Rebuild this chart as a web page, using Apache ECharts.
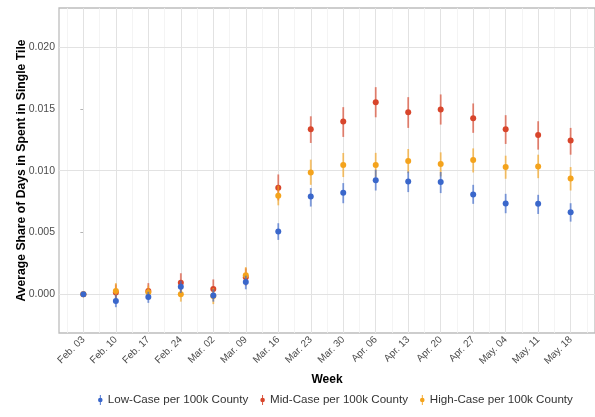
<!DOCTYPE html>
<html>
<head>
<meta charset="utf-8">
<script src="https://cdn.jsdelivr.net/npm/echarts@6/dist/echarts.min.js"></script>
<style>
html,body{margin:0;padding:0;background:#fff;}
#chart{width:595px;height:417px;}
</style>
</head>
<body>
<div id="chart"></div>
<script>
var weeks = ['Feb. 03','Feb. 10','Feb. 17','Feb. 24','Mar. 02','Mar. 09','Mar. 16','Mar. 23','Mar. 30','Apr. 06','Apr. 13','Apr. 20','Apr. 27','May. 04','May. 11','May. 18'];

var lowMean = [0, -0.00054, -0.00022, 0.0006, -0.0001, 0.0010, 0.00508, 0.00791, 0.00821, 0.00924, 0.00913, 0.00908, 0.00807, 0.00734, 0.00732, 0.00664];
var lowLo   = [0, -0.00105, -0.0007, 0.0001, -0.0006, 0.0004, 0.0044, 0.0071, 0.00737, 0.0084, 0.00827, 0.00819, 0.00732, 0.00656, 0.0065, 0.00588];
var lowHi   = [0, -0.00003, 0.0002, 0.0011, 0.0004, 0.0015, 0.00575, 0.0086, 0.0090, 0.01008, 0.00994, 0.0099, 0.00886, 0.00813, 0.00805, 0.00737];

var midMean = [0, 0.00014, 0.00027, 0.00092, 0.00043, 0.00138, 0.00862, 0.01336, 0.01398, 0.01555, 0.01474, 0.01496, 0.01425, 0.01336, 0.0129, 0.01244];
var midLo   = [0, -0.0004, -0.0003, 0.0002, -0.0003, 0.0007, 0.0076, 0.01225, 0.01274, 0.01433, 0.01347, 0.01374, 0.01307, 0.01217, 0.01171, 0.0113];
var midHi   = [0, 0.0008, 0.0009, 0.0017, 0.0012, 0.0021, 0.0097, 0.01441, 0.01515, 0.01677, 0.01596, 0.01618, 0.01545, 0.0145, 0.01401, 0.01347];

var highMean = [0, 0.00027, 0.00016, 0.0000, -0.00015, 0.00154, 0.00797, 0.00986, 0.01046, 0.01046, 0.01079, 0.01054, 0.01087, 0.0103, 0.01035, 0.00938];
var highLo   = [0, -0.0003, -0.0004, -0.0006, -0.0008, 0.0009, 0.0072, 0.00886, 0.00949, 0.0095, 0.00981, 0.00954, 0.00986, 0.00935, 0.0094, 0.0084];
var highHi   = [0, 0.0009, 0.0007, 0.0006, 0.0005, 0.0022, 0.0088, 0.0109, 0.01144, 0.01145, 0.01176, 0.01149, 0.01181, 0.01122, 0.0113, 0.0103];

var yTicks = [0, 0.005, 0.010, 0.015, 0.020];
var seriesNames = ['Low-Case per 100k County', 'Mid-Case per 100k County', 'High-Case per 100k County'];
var colors = ['#3A67CB', '#D8452B', '#F4A31C'];

var xIdx = weeks.map(function (w, i) { return i; });
var xMinor = [];
for (var i = -1; i < weeks.length; i++) xMinor.push(i + 0.5);
var yMinor = [-0.0025, 0.0025, 0.0075, 0.0125, 0.0175, 0.0225];

var FONT = 'Liberation Sans, Arial, Helvetica, sans-serif';
var chart = echarts.init(document.getElementById('chart'), null, {renderer: 'canvas'});

function pts(mean) { return mean.map(function (v, i) { return [i, v]; }); }
function bars(lo, hi) { return lo.map(function (v, i) { return [i, v, hi[i]]; }); }

function errSeries(name, color, lo, hi, z) {
  return {
    name: name, type: 'custom', z: z, silent: true, animation: false,
    color: color, itemStyle: {color: color},
    data: bars(lo, hi),
    encode: {x: 0, y: [1, 2]},
    renderItem: function (params, api) {
      var p1 = api.coord([api.value(0), api.value(1)]);
      var p2 = api.coord([api.value(0), api.value(2)]);
      var top = Math.min(p1[1], p2[1]);
      var h = Math.abs(p1[1] - p2[1]);
      return {type: 'rect', shape: {x: p1[0] - 0.9, y: top, width: 1.8, height: h},
        style: {fill: color, stroke: null, lineWidth: 0, opacity: 0.65}};
    }
  };
}
function ptSeries(name, color, mean, z) {
  return {
    name: name, type: 'scatter', z: z, silent: true, animation: false,
    color: color,
    symbol: 'circle', symbolSize: 6,
    itemStyle: {color: color, opacity: 1},
    data: pts(mean)
  };
}

var gridLines = {
  type: 'line', data: [], z: 1, silent: true, animation: false,
  markLine: {
    z: 1, zlevel: 0,
    silent: true, symbol: ['none', 'none'], animation: false,
    label: {show: false},
    data: []
      .concat(xMinor.map(function (v) { return {xAxis: v, lineStyle: {color: '#f1f1f1', width: 0.8, type: 'solid'}}; }))
      .concat(yMinor.map(function (v) { return {yAxis: v, lineStyle: {color: '#f1f1f1', width: 0.8, type: 'solid'}}; }))
      .concat(xIdx.map(function (v) { return {xAxis: v, lineStyle: {color: '#e2e2e2', width: 1, type: 'solid'}}; }))
      .concat(yTicks.map(function (v) { return {yAxis: v, lineStyle: {color: '#e2e2e2', width: 1, type: 'solid'}}; }))
  }
};

var legendIcon = 'path://M4.55 0H5.45V10H4.55Z M5 2.7A2.3 2.3 0 1 1 5 7.3A2.3 2.3 0 1 1 5 2.7Z';

var option = {
  backgroundColor: '#ffffff',
  animation: false,
  color: colors,
  textStyle: {fontFamily: FONT},
  grid: {left: 59, top: 8, width: 544.5, height: 325, show: true, borderColor: '#bdbdbd', borderWidth: 1.3, backgroundColor: '#fff'},
  legend: {
    bottom: 6, left: 93,
    data: seriesNames.map(function (n, k) { return {name: n, itemStyle: {color: colors[k]}}; }),
    icon: legendIcon,
    itemWidth: 5, itemHeight: 10, itemGap: 12,
    textStyle: {fontSize: 11.6, color: '#333', fontFamily: FONT}
  },
  xAxis: {
    type: 'value', min: -0.75, max: 15.75,
    name: 'Week', nameLocation: 'middle', nameGap: 41,
    nameTextStyle: {fontWeight: 'bold', fontSize: 12, color: '#000', fontFamily: FONT},
    axisLine: {show: false},
    axisTick: {show: true, customValues: xIdx, length: 3, lineStyle: {color: '#b3b3b3'}},
    axisLabel: {customValues: xIdx, rotate: 45, margin: 5, fontSize: 10, color: '#4d4d4d',
      formatter: function (v) { return weeks[Math.round(v)]; }},
    splitLine: {show: false}
  },
  yAxis: {
    type: 'value', min: -0.00314, max: 0.02318,
    name: 'Average Share of Days in Spent in Single Tile', nameLocation: 'middle', nameGap: 31,
    nameMoveOverlap: false,
    nameTextStyle: {fontWeight: 'bold', fontSize: 12.2, color: '#000', fontFamily: FONT},
    axisLine: {show: false},
    axisTick: {show: true, customValues: yTicks, length: 3, lineStyle: {color: '#b3b3b3'}},
    axisLabel: {customValues: yTicks, margin: 4, fontSize: 10.5, color: '#4d4d4d',
      formatter: function (v) { return v.toFixed(3); }},
    splitLine: {show: false}
  },
  series: [
    gridLines,
    errSeries(seriesNames[1], colors[1], midLo, midHi, 12),
    ptSeries(seriesNames[1], colors[1], midMean, 13),
    errSeries(seriesNames[2], colors[2], highLo, highHi, 14),
    ptSeries(seriesNames[2], colors[2], highMean, 15),
    errSeries(seriesNames[0], colors[0], lowLo, lowHi, 16),
    ptSeries(seriesNames[0], colors[0], lowMean, 17)
  ]
};
chart.setOption(option);
</script>
</body>
</html>
